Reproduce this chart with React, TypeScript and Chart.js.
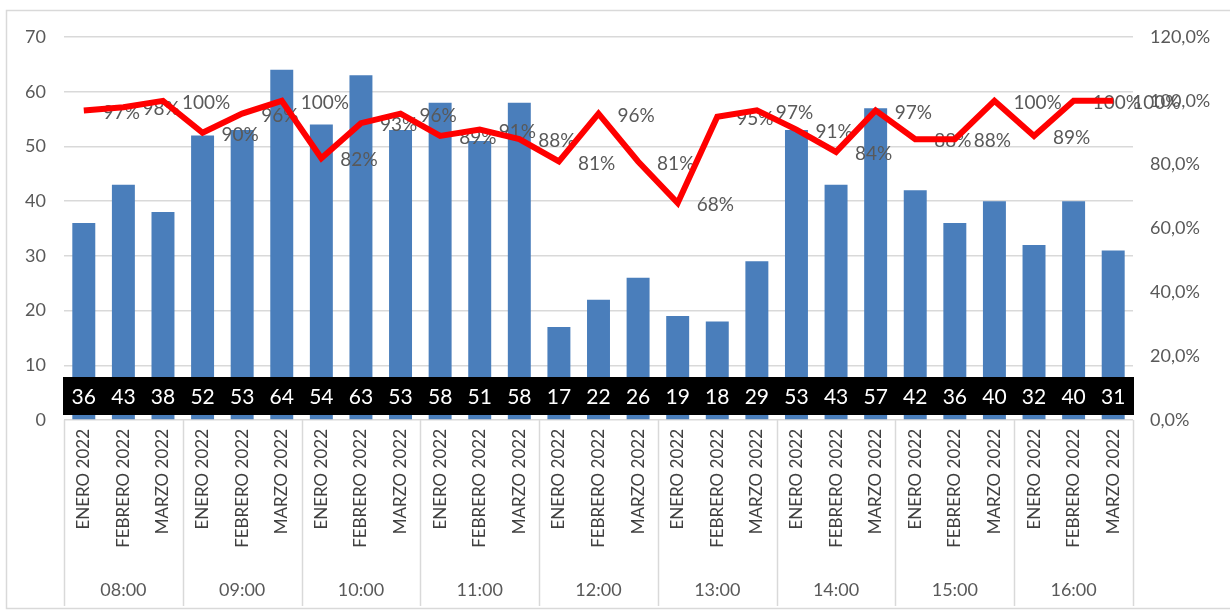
import React, { useEffect, useRef } from 'react';
import { Chart, registerables } from 'chart.js';

Chart.register(...registerables);

const hours = ['08:00', '09:00', '10:00', '11:00', '12:00', '13:00', '14:00', '15:00', '16:00'];
const months = ['ENERO 2022', 'FEBRERO 2022', 'MARZO 2022'];
const counts = [36, 43, 38, 52, 53, 64, 54, 63, 53, 58, 51, 58, 17, 22, 26, 19, 18, 29, 53, 43, 57, 42, 36, 40, 32, 40, 31];
const percents = [97, 98, 100, 90, 96, 100, 82, 93, 96, 89, 91, 88, 81, 96, 81, 68, 95, 97, 91, 84, 97, 88, 88, 100, 89, 100, 100];
const leftMax = 70;
const leftStep = 10;
const rightMax = 120;
const rightStep = 20;

const categories: string[] = hours.flatMap(() => months);

const FONT = 'Lato, "Open Sans", sans-serif';
const GRID = '#d9d9d9';
const TEXT = '#595959';

const overlayPlugin = {
  id: 'overlay',
  afterDatasetDraw(chart: any, args: any) {
    if (args.index !== 1) return;
    const ctx = chart.ctx;
    const x = chart.scales.x;
    const y = chart.scales.y;
    const y1 = chart.scales.y1;
    const cw = (x.right - x.left) / categories.length;
    const base = y.getPixelForValue(0);
    ctx.save();
    counts.forEach((v, i) => {
      const cx = x.getPixelForValue(i);
      ctx.fillStyle = '#000';
      ctx.fillRect(cx - cw / 2 - 1, base - 43, cw + 2, 38);
    });
    ctx.fillStyle = '#fff';
    ctx.font = `21px ${FONT}`;
    ctx.textAlign = 'center';
    ctx.textBaseline = 'middle';
    counts.forEach((v, i) => {
      ctx.fillText(String(v), x.getPixelForValue(i), base - 23);
    });
    ctx.fillStyle = TEXT;
    ctx.font = `19px ${FONT}`;
    ctx.textAlign = 'left';
    percents.forEach((p, i) => {
      ctx.fillText(`${p}%`, x.getPixelForValue(i) + 19, y1.getPixelForValue(p) + 2);
    });
    ctx.restore();
  },
  afterDraw(chart: any) {
    const ctx = chart.ctx;
    const x = chart.scales.x;
    const area = chart.chartArea;
    const cw = (x.right - x.left) / categories.length;
    ctx.save();
    ctx.strokeStyle = GRID;
    ctx.lineWidth = 1.5;
    for (let g = 0; g <= hours.length; g++) {
      const px = Math.round(x.left + g * months.length * cw) + 0.5;
      ctx.beginPath();
      ctx.moveTo(px, area.bottom);
      ctx.lineTo(px, 606);
      ctx.stroke();
    }
    ctx.fillStyle = TEXT;
    ctx.font = `18px ${FONT}`;
    ctx.textAlign = 'center';
    ctx.textBaseline = 'middle';
    hours.forEach((h, g) => {
      const cx = x.left + (g * months.length + months.length / 2) * cw;
      ctx.fillText(h, cx, 590);
    });
    ctx.strokeStyle = GRID;
    ctx.lineWidth = 1.5;
    ctx.strokeRect(6.5, 10.5, 1240, 598);
    ctx.restore();
  },
};

export default function App() {
  const ref = useRef<HTMLCanvasElement | null>(null);
  useEffect(() => {
    if (!ref.current) return;
    const chart = new Chart(ref.current, {
      type: 'bar',
      data: {
        labels: categories,
        datasets: [
          {
            type: 'line',
            label: '%',
            data: percents,
            yAxisID: 'y1',
            borderColor: '#ff0000',
            backgroundColor: '#ff0000',
            borderWidth: 6,
            pointRadius: 0,
            tension: 0,
            order: 0,
          } as any,
          {
            type: 'bar',
            label: 'Total',
            data: counts,
            yAxisID: 'y',
            backgroundColor: '#4a7ebb',
            categoryPercentage: 1,
            barPercentage: 0.58,
            order: 1,
          },
        ],
      },
      options: {
        animation: false,
        responsive: false,
        maintainAspectRatio: false,
        layout: { padding: { top: 37, bottom: 0, left: 0, right: 0 } },
        plugins: { legend: { display: false }, tooltip: { enabled: false } },
        scales: {
          x: {
            grid: { display: false, drawTicks: false },
            border: { display: false },
            ticks: {
              autoSkip: false,
              minRotation: 90,
              maxRotation: 90,
              padding: 9,
              color: '#404040',
              font: { family: FONT, size: 17 },
            },
            afterFit(scale: any) {
              scale.height = 192;
            },
          },
          y: {
            position: 'left',
            min: 0,
            max: leftMax,
            ticks: {
              stepSize: leftStep,
              padding: 18,
              color: TEXT,
              font: { family: FONT, size: 18 },
            },
            grid: { color: GRID, lineWidth: 1.5, drawTicks: false },
            border: { display: false },
            afterFit(scale: any) {
              scale.width = 64;
            },
          },
          y1: {
            position: 'right',
            min: 0,
            max: rightMax,
            ticks: {
              stepSize: rightStep,
              padding: 17,
              color: TEXT,
              font: { family: FONT, size: 18 },
              callback: (v: any) => `${v},0%`,
            },
            grid: { display: false, drawTicks: false },
            border: { display: false },
            afterFit(scale: any) {
              scale.width = 97;
            },
          },
        },
      },
      plugins: [overlayPlugin],
    });
    return () => chart.destroy();
  }, []);
  return (
    <div style={{ position: 'fixed', left: 0, top: 0, width: 1230, height: 612, background: '#fff' }}>
      <canvas ref={ref} width={1230} height={612} style={{ width: 1230, height: 612 }} />
    </div>
  );
}
